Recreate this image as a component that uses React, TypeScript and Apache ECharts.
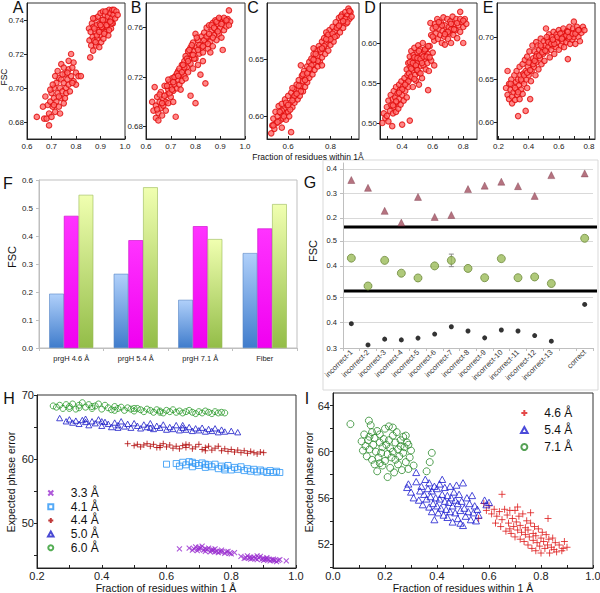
import React, { useEffect, useRef } from 'react';
import * as echarts from 'echarts';

const FONT = 'Liberation Sans, Arial, sans-serif';

// ---------- Panel A ----------
const aLow = [[0.64,0.683],[0.665,0.689],[0.67,0.682],[0.675,0.695],[0.68,0.682],[0.685,0.69],[0.69,0.678],[0.69,0.685],[0.695,0.692],[0.70,0.683],[0.70,0.697],[0.705,0.689],[0.71,0.694],[0.71,0.700],[0.715,0.686],[0.72,0.692],[0.72,0.703],[0.725,0.697],[0.73,0.689],[0.73,0.706],[0.735,0.700],[0.74,0.694],[0.74,0.714],[0.74,0.705],[0.745,0.698],[0.75,0.703],[0.75,0.691],[0.755,0.708],[0.76,0.700],[0.76,0.697],[0.765,0.705],[0.77,0.711],[0.77,0.702],[0.775,0.698],[0.78,0.72],[0.78,0.707],[0.785,0.712],[0.79,0.704],[0.79,0.715],[0.80,0.709],[0.80,0.702],[0.81,0.707],[0.82,0.707],[0.725,0.710],[0.705,0.702],[0.695,0.699],[0.735,0.685],[0.755,0.694],[0.77,0.716],[0.715,0.707],[0.745,0.708],[0.765,0.709],[0.73,0.695],[0.71,0.690],[0.75,0.712],[0.785,0.703]];
const aHigh = [[0.853,0.735],[0.855,0.728],[0.858,0.718],[0.86,0.733],[0.862,0.725],[0.865,0.738],[0.868,0.73],[0.87,0.722],[0.872,0.736],[0.875,0.728],[0.878,0.741],[0.88,0.733],[0.882,0.725],[0.885,0.737],[0.888,0.729],[0.89,0.742],[0.892,0.734],[0.895,0.724],[0.897,0.738],[0.90,0.744],[0.90,0.731],[0.903,0.727],[0.905,0.740],[0.908,0.735],[0.91,0.745],[0.912,0.729],[0.915,0.738],[0.918,0.743],[0.92,0.733],[0.922,0.74],[0.925,0.745],[0.927,0.736],[0.93,0.742],[0.932,0.731],[0.935,0.746],[0.937,0.739],[0.94,0.744],[0.943,0.735],[0.945,0.741],[0.948,0.746],[0.95,0.738],[0.953,0.743],[0.955,0.746],[0.96,0.741],[0.965,0.745],[0.97,0.743],[0.875,0.735],[0.885,0.731],[0.895,0.733],[0.905,0.736],[0.915,0.732],[0.925,0.737],[0.935,0.734],[0.945,0.738],[0.88,0.727],[0.9,0.737],[0.92,0.745],[0.94,0.739],[0.87,0.741],[0.91,0.74]];
const aXLabels = [0.6, 0.7, 0.8, 0.9, 1.0];
const aYLabels = [0.68, 0.70, 0.72, 0.74];

// ---------- Panel B ----------
const bPts = [[0.625,0.700],[0.63,0.693],[0.635,0.712],[0.64,0.687],[0.64,0.697],[0.645,0.704],[0.65,0.691],[0.65,0.685],[0.655,0.700],[0.66,0.695],[0.66,0.708],[0.665,0.689],[0.67,0.702],[0.67,0.697],[0.675,0.713],[0.68,0.700],[0.68,0.693],[0.685,0.706],[0.69,0.710],[0.69,0.699],[0.695,0.716],[0.70,0.704],[0.70,0.712],[0.705,0.719],[0.71,0.709],[0.71,0.700],[0.715,0.714],[0.72,0.688],[0.72,0.721],[0.725,0.711],[0.73,0.718],[0.73,0.725],[0.735,0.714],[0.74,0.722],[0.745,0.730],[0.745,0.717],[0.75,0.726],[0.755,0.733],[0.755,0.721],[0.76,0.737],[0.765,0.728],[0.77,0.741],[0.77,0.724],[0.775,0.735],[0.78,0.705],[0.78,0.744],[0.78,0.731],[0.785,0.738],[0.79,0.727],[0.79,0.748],[0.795,0.741],[0.80,0.699],[0.80,0.755],[0.80,0.735],[0.805,0.744],[0.81,0.730],[0.81,0.750],[0.815,0.739],[0.82,0.722],[0.82,0.746],[0.825,0.753],[0.83,0.740],[0.835,0.756],[0.84,0.715],[0.84,0.748],[0.845,0.760],[0.85,0.743],[0.85,0.752],[0.855,0.762],[0.86,0.749],[0.865,0.757],[0.87,0.764],[0.87,0.745],[0.875,0.754],[0.88,0.766],[0.88,0.759],[0.885,0.750],[0.89,0.763],[0.895,0.755],[0.90,0.767],[0.90,0.760],[0.905,0.752],[0.91,0.742],[0.91,0.765],[0.915,0.758],[0.92,0.766],[0.925,0.761],[0.93,0.767],[0.935,0.774],[0.94,0.765],[0.76,0.719],[0.83,0.733],[0.86,0.740],[0.74,0.710],[0.69,0.718],
  [0.645,0.694],[0.655,0.706],[0.665,0.699],[0.675,0.705],[0.685,0.713],[0.695,0.707],[0.705,0.710],[0.715,0.720],[0.725,0.723],[0.735,0.727],[0.745,0.724],[0.755,0.728],[0.765,0.735],[0.775,0.742],[0.785,0.746],[0.795,0.735],[0.805,0.752],[0.815,0.746],[0.825,0.744],[0.835,0.750],[0.845,0.753],[0.855,0.755],[0.865,0.762],[0.875,0.760],[0.885,0.765],[0.895,0.768],[0.905,0.763],[0.915,0.768],[0.925,0.766],[0.935,0.762],[0.89,0.757],[0.87,0.752],[0.85,0.747],[0.83,0.745],[0.81,0.742],[0.79,0.738],[0.77,0.733],[0.75,0.730],[0.73,0.721],[0.71,0.716]];
const bXLabels = [0.6, 0.7, 0.8, 0.9, 1.0];
const bYLabels = [0.68, 0.72, 0.76];

// ---------- Panel C ----------
const cPts = [[0.52,0.585],[0.525,0.592],[0.53,0.598],[0.535,0.589],[0.54,0.604],[0.545,0.594],[0.55,0.600],[0.555,0.609],[0.56,0.596],[0.565,0.603],[0.57,0.611],[0.575,0.598],[0.58,0.606],[0.585,0.615],[0.59,0.603],[0.59,0.597],[0.595,0.610],[0.60,0.618],[0.60,0.604],[0.605,0.600],[0.61,0.612],[0.614,0.586],[0.615,0.621],[0.62,0.608],[0.625,0.616],[0.63,0.624],[0.63,0.612],[0.635,0.619],[0.64,0.628],[0.645,0.615],[0.65,0.623],[0.65,0.632],[0.655,0.618],[0.66,0.627],[0.665,0.636],[0.67,0.622],[0.67,0.631],[0.675,0.640],[0.68,0.626],[0.685,0.635],[0.69,0.644],[0.69,0.630],[0.695,0.639],[0.70,0.648],[0.70,0.634],[0.705,0.642],[0.71,0.651],[0.715,0.637],[0.72,0.646],[0.72,0.655],[0.725,0.641],[0.73,0.650],[0.735,0.658],[0.74,0.644],[0.74,0.653],[0.745,0.662],[0.75,0.648],[0.755,0.657],[0.76,0.666],[0.76,0.652],[0.765,0.660],[0.77,0.669],[0.775,0.655],[0.78,0.664],[0.785,0.672],[0.79,0.658],[0.79,0.667],[0.795,0.676],[0.80,0.663],[0.805,0.671],[0.81,0.679],[0.815,0.666],[0.82,0.675],[0.825,0.683],[0.83,0.671],[0.835,0.679],[0.84,0.687],[0.845,0.674],[0.85,0.683],[0.855,0.690],[0.86,0.678],[0.865,0.686],[0.87,0.692],[0.875,0.682],[0.88,0.689],[0.885,0.695],[0.89,0.686],[0.895,0.692],[0.90,0.688],[0.66,0.645],[0.72,0.660],[0.78,0.674],[0.62,0.625],[0.57,0.590],[0.76,0.645],
  [0.53,0.592],[0.55,0.595],[0.57,0.605],[0.59,0.612],[0.61,0.606],[0.63,0.618],[0.65,0.627],[0.67,0.637],[0.69,0.638],[0.71,0.645],[0.73,0.655],[0.75,0.659],[0.77,0.662],[0.79,0.672],[0.81,0.673],[0.83,0.678],[0.85,0.688],[0.87,0.686],[0.89,0.693],[0.88,0.683],[0.86,0.684],[0.84,0.680],[0.82,0.670],[0.80,0.668],[0.78,0.668],[0.76,0.660],[0.74,0.649],[0.72,0.650],[0.70,0.642],[0.68,0.632],[0.66,0.622],[0.64,0.620],[0.62,0.614],[0.60,0.610],[0.58,0.600],[0.56,0.604]];
const cXLabels = [0.6, 0.8];
const cXTicks = [0.6, 0.7, 0.8, 0.9];
const cYLabels = [0.60, 0.65];

// ---------- Panel D ----------
const dPts = [[0.27,0.500],[0.28,0.512],[0.29,0.506],[0.30,0.520],[0.30,0.509],[0.31,0.528],[0.31,0.502],[0.32,0.515],[0.325,0.535],[0.33,0.522],[0.335,0.496],[0.34,0.530],[0.34,0.512],[0.345,0.540],[0.35,0.520],[0.355,0.532],[0.36,0.514],[0.36,0.545],[0.365,0.526],[0.37,0.537],[0.375,0.518],[0.38,0.548],[0.38,0.530],[0.385,0.541],[0.39,0.523],[0.395,0.552],[0.40,0.535],[0.40,0.498],[0.405,0.545],[0.41,0.528],[0.415,0.556],[0.42,0.540],[0.425,0.550],[0.43,0.532],[0.435,0.560],[0.44,0.545],[0.45,0.503],[0.45,0.555],
  [0.43,0.567],[0.44,0.575],[0.445,0.562],[0.45,0.583],[0.455,0.570],[0.46,0.590],[0.46,0.558],[0.465,0.578],[0.47,0.566],[0.475,0.585],[0.48,0.573],[0.48,0.594],[0.485,0.560],[0.49,0.580],[0.495,0.568],[0.50,0.588],[0.50,0.575],[0.505,0.597],[0.51,0.563],[0.515,0.583],[0.52,0.571],[0.52,0.592],[0.525,0.578],[0.53,0.556],[0.53,0.586],[0.535,0.600],[0.54,0.572],[0.545,0.590],[0.55,0.580],[0.555,0.567],[0.56,0.593],[0.565,0.575],[0.57,0.541],[0.57,0.586],[0.575,0.565],[0.58,0.596],[0.59,0.578],[0.60,0.588],[0.61,0.572],[0.49,0.553],[0.51,0.548],[0.47,0.545],
  [0.45,0.576],[0.46,0.568],[0.47,0.575],[0.48,0.582],[0.49,0.572],[0.50,0.581],[0.51,0.590],[0.52,0.580],[0.53,0.575],[0.54,0.583],[0.55,0.592],[0.56,0.583],[0.57,0.596],[0.58,0.582],[0.50,0.566],[0.52,0.562],[0.48,0.555],[0.44,0.552],[0.42,0.548],[0.40,0.542],[0.38,0.538],[0.36,0.527],[0.34,0.522],
  [0.585,0.625],[0.59,0.610],[0.60,0.618],[0.61,0.603],[0.615,0.624],[0.62,0.612],[0.63,0.630],[0.635,0.605],[0.64,0.618],[0.65,0.610],[0.655,0.625],[0.66,0.600],[0.665,0.615],[0.67,0.632],[0.675,0.608],[0.68,0.622],[0.69,0.614],[0.695,0.630],[0.70,0.605],[0.705,0.620],[0.71,0.612],[0.715,0.627],[0.72,0.617],[0.73,0.633],[0.735,0.610],[0.74,0.624],[0.75,0.616],[0.755,0.630],[0.76,0.606],[0.77,0.622],[0.78,0.639],[0.78,0.614],[0.79,0.626],[0.80,0.600],[0.80,0.620],[0.81,0.630],[0.82,0.624],[0.68,0.598],[0.72,0.600],
  [0.66,0.622],[0.70,0.614],[0.74,0.617],[0.76,0.625],[0.72,0.624],[0.68,0.611],[0.64,0.626],[0.62,0.620],[0.78,0.630],[0.80,0.628],[0.60,0.608]];
const dXLabels = [0.4, 0.6, 0.8];
const dXTicks = [0.3, 0.4, 0.5, 0.6, 0.7, 0.8];
const dYLabels = [0.50, 0.55, 0.60];

// ---------- Panel E ----------
const ePts = [[0.25,0.640],[0.26,0.632],[0.26,0.660],[0.27,0.645],[0.27,0.627],[0.28,0.638],[0.285,0.650],[0.29,0.630],[0.29,0.622],[0.30,0.643],[0.30,0.635],[0.305,0.655],[0.31,0.626],[0.315,0.647],[0.32,0.638],[0.32,0.660],[0.325,0.632],[0.33,0.607],[0.33,0.650],[0.335,0.643],[0.34,0.665],[0.34,0.627],[0.345,0.655],[0.35,0.638],[0.355,0.648],[0.36,0.668],[0.36,0.633],[0.365,0.657],[0.37,0.645],[0.375,0.673],[0.38,0.613],[0.38,0.660],[0.385,0.650],[0.39,0.640],[0.39,0.677],[0.395,0.665],[0.40,0.655],[0.405,0.683],[0.41,0.627],[0.41,0.670],[0.415,0.648],[0.42,0.660],[0.425,0.690],[0.43,0.675],[0.435,0.665],[0.44,0.683],[0.445,0.655],[0.45,0.694],[0.45,0.670],[0.455,0.680],[0.46,0.690],[0.465,0.662],[0.47,0.685],[0.475,0.675],[0.48,0.698],[0.485,0.668],[0.49,0.688],[0.495,0.680],[0.50,0.695],[0.505,0.672],[0.51,0.690],[0.515,0.710],[0.52,0.683],[0.525,0.697],[0.53,0.688],[0.535,0.703],[0.54,0.676],[0.545,0.694],[0.55,0.685],[0.555,0.700],[0.56,0.690],[0.565,0.706],[0.57,0.680],[0.575,0.697],[0.58,0.688],[0.585,0.703],[0.59,0.694],[0.60,0.708],[0.60,0.685],[0.61,0.698],[0.615,0.690],[0.62,0.705],[0.625,0.695],[0.63,0.710],[0.635,0.688],[0.64,0.700],[0.65,0.694],[0.655,0.707],[0.66,0.674],[0.665,0.698],[0.67,0.712],[0.675,0.692],[0.68,0.704],[0.69,0.697],[0.695,0.710],[0.70,0.718],[0.70,0.700],[0.71,0.692],[0.715,0.706],[0.72,0.712],[0.73,0.700],[0.735,0.708],[0.74,0.695],[0.75,0.705],[0.76,0.712],[0.77,0.708],
  [0.28,0.645],[0.31,0.640],[0.33,0.635],[0.35,0.650],[0.37,0.655],[0.39,0.658],[0.41,0.661],[0.43,0.668],[0.45,0.677],[0.47,0.678],[0.49,0.682],[0.51,0.684],[0.53,0.694],[0.55,0.692],[0.57,0.692],[0.59,0.700],[0.61,0.704],[0.63,0.700],[0.65,0.702],[0.67,0.700],[0.69,0.704],[0.71,0.704],[0.73,0.708],[0.40,0.670],[0.44,0.672],[0.48,0.690],[0.52,0.700],[0.56,0.697],[0.62,0.698],[0.66,0.706]];
const eXLabels = [0.2, 0.4, 0.6, 0.8];
const eXTicks = [0.2, 0.3, 0.4, 0.5, 0.6, 0.7, 0.8];
const eYLabels = [0.60, 0.65, 0.70];

// ---------- Panel F ----------
const fCats = ['prgH 4.6 Å', 'prgH 5.4 Å', 'prgH 7.1 Å', 'Fiber'];
const fBlue = [0.194, 0.265, 0.172, 0.339];
const fMagenta = [0.472, 0.385, 0.435, 0.427];
const fGreen = [0.547, 0.574, 0.389, 0.514];

// ---------- Panel G ----------
const gCats = ['incorrect-1','incorrect-2','incorrect-3','incorrect-4','incorrect-5','incorrect-6','incorrect-7','incorrect-8','incorrect-9','incorrect-10','incorrect-11','incorrect-12','incorrect-13','','correct'];
const gTop = [0.355,0.323,0.229,0.181,0.286,0.204,0.212,0.318,0.332,0.348,0.330,0.290,0.375,null,0.382];
const gMid = [0.431,0.320,0.422,0.371,0.352,0.400,0.422,0.390,0.353,0.429,0.353,0.356,0.330,null,0.510];
const gMidErr = [0,0,0,0,0,0,0.025,0,0,0,0,0,0,0,0];
const gBot = [0.396,0.312,0.335,0.332,0.339,0.355,0.384,0.367,0.340,0.371,0.367,0.349,0.327,null,0.472];
const gTopLabels = [0.2, 0.3, 0.4];
const gMidLabels = [0.4, 0.5];
const gBotLabels = [0.3, 0.4, 0.5];

// ---------- Panel H ----------
const h60 = [[0.25,68.3],[0.26,68.1],[0.27,68.4],[0.28,67.9],[0.29,68.5],[0.30,68.2],[0.31,68.6],[0.32,67.8],[0.33,68.4],[0.34,68.8],[0.35,68.1],[0.36,68.5],[0.37,67.9],[0.38,68.3],[0.39,68.6],[0.40,67.8],[0.41,68.4],[0.42,68.0],[0.43,67.7],[0.44,68.2],[0.45,67.9],[0.46,68.1],[0.47,67.6],[0.48,68.0],[0.49,67.8],[0.50,67.5],[0.51,67.9],[0.52,67.7],[0.53,67.4],[0.54,67.8],[0.55,67.6],[0.56,67.3],[0.57,67.7],[0.58,67.5],[0.59,67.2],[0.60,67.6],[0.61,67.4],[0.62,67.7],[0.63,67.3],[0.64,67.5],[0.65,67.2],[0.66,67.4],[0.67,67.6],[0.68,67.3],[0.69,67.1],[0.70,67.4],[0.71,67.2],[0.72,67.5],[0.73,67.3],[0.74,67.1],[0.75,67.4],[0.76,67.2],[0.77,67.3],[0.78,67.2],[0.33,68.0],[0.37,68.2],[0.44,67.6],[0.5,67.9],[0.3,67.9],[0.58,67.3]];
const h50 = [[0.27,66.4],[0.29,65.9],[0.30,66.2],[0.31,65.7],[0.32,66.0],[0.33,65.5],[0.34,66.1],[0.35,65.8],[0.36,65.3],[0.37,65.9],[0.38,65.6],[0.39,66.2],[0.40,65.2],[0.41,65.8],[0.42,65.5],[0.43,65.0],[0.44,65.7],[0.45,65.3],[0.46,65.9],[0.47,65.1],[0.48,65.5],[0.49,64.9],[0.50,65.6],[0.51,65.2],[0.52,64.8],[0.53,65.4],[0.54,65.0],[0.55,65.6],[0.56,64.7],[0.57,65.2],[0.58,64.9],[0.59,65.4],[0.60,64.6],[0.61,65.0],[0.62,64.7],[0.63,65.3],[0.64,64.5],[0.65,64.9],[0.66,64.6],[0.67,65.0],[0.68,64.4],[0.69,64.8],[0.70,64.5],[0.71,64.9],[0.72,64.3],[0.73,64.7],[0.74,64.4],[0.75,64.8],[0.76,64.2],[0.77,64.6],[0.78,64.3],[0.80,64.4],[0.82,64.2],[0.35,66.3],[0.4,65.9],[0.45,64.9],[0.55,64.9],[0.65,65.3]];
const h44 = [[0.48,62.4],[0.50,62.1],[0.51,62.3],[0.52,61.9],[0.53,62.2],[0.54,62.4],[0.55,62.0],[0.56,62.3],[0.57,61.8],[0.58,62.1],[0.59,62.4],[0.60,61.9],[0.61,62.2],[0.62,61.7],[0.63,62.0],[0.64,61.6],[0.65,62.1],[0.66,61.8],[0.67,62.2],[0.68,61.6],[0.69,61.9],[0.70,62.3],[0.71,61.5],[0.72,61.8],[0.73,62.0],[0.74,61.4],[0.75,61.7],[0.76,62.0],[0.77,61.3],[0.78,61.6],[0.79,61.2],[0.80,61.5],[0.81,61.1],[0.82,61.4],[0.83,61.0],[0.84,61.3],[0.85,60.9],[0.86,61.2],[0.87,61.0],[0.88,60.8],[0.89,61.1],[0.90,61.0],[0.58,61.8],[0.66,62.3],[0.72,61.3]];
const h41 = [[0.60,59.2],[0.63,59.3],[0.64,58.9],[0.65,59.5],[0.66,59.1],[0.67,59.6],[0.68,58.8],[0.69,59.3],[0.70,59.0],[0.71,59.4],[0.72,58.7],[0.73,59.1],[0.74,58.8],[0.75,59.2],[0.76,58.5],[0.77,58.9],[0.78,58.6],[0.79,59.0],[0.80,58.3],[0.81,58.7],[0.82,58.4],[0.83,58.8],[0.84,58.2],[0.85,58.5],[0.86,58.1],[0.87,58.4],[0.88,58.0],[0.89,58.3],[0.90,58.1],[0.91,57.9],[0.92,58.2],[0.93,57.9],[0.94,58.1],[0.95,57.9],[0.68,59.5],[0.72,59.2],[0.78,58.3]];
const h33 = [[0.64,46.0],[0.67,46.1],[0.68,45.8],[0.69,46.3],[0.70,45.9],[0.71,46.4],[0.72,45.6],[0.73,46.1],[0.74,45.7],[0.75,46.0],[0.76,45.4],[0.77,45.8],[0.78,45.3],[0.79,45.6],[0.80,45.2],[0.72,46.0],[0.75,45.5],[0.70,46.2],[0.74,45.9],[0.77,45.5],[0.81,45.4],
  [0.685,46.0],[0.695,45.7],[0.705,46.1],[0.715,45.8],[0.725,45.9],[0.735,45.5],[0.745,45.8],[0.755,45.6],[0.765,45.6],[0.785,45.5],[0.795,45.3],
  [0.83,44.8],[0.84,44.5],[0.85,44.9],[0.86,44.4],[0.87,44.7],[0.88,44.3],[0.89,44.8],[0.90,44.2],[0.91,44.6],[0.92,44.1],[0.93,44.4],[0.94,44.0],[0.95,44.3],[0.97,44.1],[0.88,44.9],[0.91,44.4],[0.86,44.7],[0.90,44.5],[0.93,44.2],
  [0.845,44.6],[0.855,44.6],[0.865,44.5],[0.875,44.5],[0.885,44.6],[0.895,44.4],[0.905,44.4],[0.915,44.3],[0.925,44.3],[0.935,44.2],[0.945,44.2]];
const hXLabels = [0.2, 0.4, 0.6, 0.8, 1.0];
const hXTicks = [0.2, 0.3, 0.4, 0.5, 0.6, 0.7, 0.8, 0.9, 1.0];
const hYLabels = [50, 60, 70];
const hYTicks = [45, 50, 55, 60, 65, 70];

// ---------- Panel I ----------
const i71 = [[0.067,62.4],[0.11,60.9],[0.115,60.1],[0.12,61.5],[0.125,60.5],[0.13,59.6],[0.135,61.0],[0.138,62.7],[0.14,60.2],[0.145,62.3],[0.15,61.7],[0.15,59.3],[0.155,60.6],[0.16,61.2],[0.16,58.9],[0.165,60.0],[0.17,58.3],[0.17,61.8],[0.175,59.5],[0.18,60.8],[0.18,61.5],[0.185,59.9],[0.19,58.8],[0.19,60.4],[0.195,61.1],[0.20,59.2],[0.20,62.0],[0.205,60.6],[0.21,57.8],[0.21,59.8],[0.215,62.2],[0.215,61.0],[0.22,60.3],[0.22,58.6],[0.225,59.5],[0.23,61.4],[0.23,60.0],[0.235,58.2],[0.24,60.8],[0.24,59.3],[0.245,61.7],[0.25,60.2],[0.25,58.9],[0.255,59.6],[0.26,61.0],[0.26,60.5],[0.265,58.4],[0.27,59.9],[0.27,61.3],[0.275,60.4],[0.28,61.4],[0.28,59.1],[0.285,60.8],[0.29,60.6],[0.295,59.5],[0.30,60.1],[0.31,58.8],[0.36,58.3],[0.372,59.1],[0.38,59.9],[0.29,58.5],[0.18,59.0],[0.14,61.3],[0.23,62.1]];
const i54 = [[0.285,56.9],[0.29,57.2],[0.30,56.5],[0.31,56.0],[0.32,58.2],[0.32,57.4],[0.33,55.8],[0.335,56.6],[0.34,57.0],[0.345,55.4],[0.35,56.3],[0.355,57.6],[0.36,55.9],[0.365,56.8],[0.37,55.2],[0.37,57.3],[0.375,56.1],[0.38,54.8],[0.38,56.6],[0.385,55.5],[0.39,54.1],[0.39,57.0],[0.395,56.0],[0.40,55.3],[0.40,56.8],[0.405,54.7],[0.41,55.9],[0.41,57.2],[0.415,55.1],[0.42,57.6],[0.42,56.3],[0.425,54.5],[0.43,55.7],[0.43,56.9],[0.435,55.0],[0.44,56.2],[0.44,54.3],[0.445,55.6],[0.45,57.0],[0.45,54.8],[0.455,56.0],[0.46,55.3],[0.46,53.9],[0.465,56.5],[0.47,54.7],[0.47,55.8],[0.475,57.1],[0.48,54.2],[0.48,55.5],[0.485,56.3],[0.49,54.9],[0.49,53.8],[0.495,55.7],[0.50,53.6],[0.50,57.3],[0.505,55.1],[0.51,54.4],[0.515,56.0],[0.52,54.8],[0.525,55.5],[0.53,54.1],[0.535,56.2],[0.54,54.7],[0.545,55.3],[0.55,54.0],[0.555,55.0],[0.56,54.5],[0.583,55.8],[0.59,55.4],[0.60,55.6]];
const i46 = [[0.56,54.2],[0.58,55.5],[0.59,54.9],[0.60,55.3],[0.61,54.6],[0.62,55.0],[0.625,53.8],[0.63,54.4],[0.64,54.8],[0.645,53.5],[0.65,56.3],[0.65,54.1],[0.66,55.0],[0.665,53.1],[0.67,54.5],[0.675,53.8],[0.68,54.9],[0.685,52.9],[0.69,54.2],[0.695,53.5],[0.70,54.9],[0.70,52.6],[0.705,53.9],[0.71,53.2],[0.715,54.4],[0.72,52.4],[0.72,53.6],[0.725,53.0],[0.73,54.6],[0.735,52.2],[0.74,53.4],[0.74,52.8],[0.745,54.0],[0.75,51.9],[0.75,53.2],[0.755,52.6],[0.76,53.8],[0.765,51.6],[0.77,52.9],[0.77,52.3],[0.775,53.5],[0.78,51.4],[0.78,52.7],[0.785,52.1],[0.79,53.3],[0.795,51.8],[0.80,52.5],[0.80,51.2],[0.805,53.0],[0.81,52.2],[0.815,51.6],[0.82,52.8],[0.825,51.9],[0.827,54.2],[0.83,52.4],[0.833,51.2],[0.84,51.7],[0.845,52.5],[0.85,51.5],[0.855,52.1],[0.86,51.3],[0.87,51.9],[0.88,51.4],[0.885,51.6],[0.89,52.2],[0.90,51.7],[0.76,54.7],[0.68,53.3],[0.71,55.2]];
const iXLabels = [0.0, 0.2, 0.4, 0.6, 0.8, 1.0];
const iXTicks = [0.0, 0.1, 0.2, 0.3, 0.4, 0.5, 0.6, 0.7, 0.8, 0.9, 1.0];
const iYLabels = [52, 56, 60, 64];
const iYTicks = [50, 52, 54, 56, 58, 60, 62, 64];

const PLUS = 'path://M5,0L5,10M0,5L10,5';
const CROSS = 'path://M0,0L10,10M10,0L0,10';
const TRI = 'path://M5,0L10,9L0,9Z';
const SQ = 'path://M0,0L10,0L10,10L0,10Z';

type AxOpt = { inside?: boolean; color?: string; fontSize?: number; margin?: number; split?: boolean; show?: boolean };

function valueAxis(gridIndex: number, min: number, max: number, labels: number[], ticks: number[], dec: number, o: AxOpt = {}) {
  const c = o.color ?? '#222';
  return {
    type: 'value', gridIndex, min, max,
    axisLine: { show: true, onZero: false, lineStyle: { color: c, width: 1 } },
    axisTick: { show: true, inside: o.inside ?? false, length: 3, customValues: ticks, lineStyle: { color: c } },
    axisLabel: {
      show: o.show ?? true, customValues: labels, formatter: (v: number) => Number(v).toFixed(dec),
      fontSize: o.fontSize ?? 8, color: '#222', margin: o.margin ?? 3, fontFamily: FONT,
    },
    splitLine: { show: !!o.split, lineStyle: { color: '#d9d9d9', width: 1 } },
  };
}

function txt(text: string, x: number, y: number, fontSize: number, rotation = 0) {
  return {
    type: 'text', x, y, rotation, silent: true,
    style: { text, fontSize, fontFamily: FONT, fill: '#111', align: 'center', verticalAlign: 'middle' },
  };
}

const redStyle = { color: '#ff6a6a', borderColor: '#e00808', borderWidth: 1.1 };

export default function App() {
  const ref = useRef<HTMLDivElement>(null);
  useEffect(() => {
    if (!ref.current) return;
    const chart = echarts.init(ref.current, undefined, { renderer: 'svg' });
    const topBox = { show: true, borderColor: '#333', borderWidth: 1, backgroundColor: 'transparent' };
    const grids = [
      { left: 27, top: 3, width: 98, height: 136, ...topBox },
      { left: 146, top: 3, width: 99, height: 136, ...topBox },
      { left: 267, top: 3, width: 92, height: 136, ...topBox },
      { left: 380, top: 3, width: 97, height: 136, ...topBox },
      { left: 497, top: 3, width: 98, height: 136, ...topBox },
      { left: 39, top: 180, width: 258, height: 168, show: true, borderColor: '#bfbfbf', borderWidth: 1 },
      { left: 343, top: 163, width: 250, height: 64 },
      { left: 343, top: 227, width: 250, height: 64 },
      { left: 343, top: 291, width: 250, height: 57 },
      { left: 37, top: 395, width: 259, height: 173, ...topBox },
      { left: 333, top: 393, width: 260, height: 175, ...topBox },
    ].map(g => ({ ...g, outerBoundsMode: 'none', containLabel: false }));

    const gCatAxis = (gi: number, showLabels: boolean) => ({
      type: 'category', gridIndex: gi, data: gCats, boundaryGap: true,
      axisLine: { show: showLabels, lineStyle: { color: '#bfbfbf' } },
      axisTick: { show: showLabels, length: 3, lineStyle: { color: '#bfbfbf' } },
      axisLabel: { show: showLabels, interval: 0, rotate: 45, fontSize: 7.5, color: '#333', margin: 3, fontFamily: FONT },
      splitLine: { show: false },
    });
    const gVal = (gi: number, min: number, max: number, labels: number[]) =>
      valueAxis(gi, min, max, labels, labels, 1, { color: '#bfbfbf', split: true, margin: 6, fontSize: 7.5 });

    const xAxis: any[] = [
      valueAxis(0, 0.6, 1.0, aXLabels, aXLabels, 1, { inside: true }),
      valueAxis(1, 0.6, 1.0, bXLabels, bXLabels, 1, { inside: true }),
      valueAxis(2, 0.5, 0.935, cXLabels, cXTicks, 1, { inside: true }),
      valueAxis(3, 0.255, 0.89, dXLabels, dXTicks, 1, { inside: true }),
      valueAxis(4, 0.19, 0.84, eXLabels, eXTicks, 1, { inside: true }),
      {
        type: 'category', gridIndex: 5, data: fCats,
        axisLine: { lineStyle: { color: '#bfbfbf' } },
        axisTick: { show: true, length: 3, lineStyle: { color: '#bfbfbf' } },
        axisLabel: { fontSize: 7.5, color: '#222', margin: 6, fontFamily: FONT },
      },
      gCatAxis(6, false),
      gCatAxis(7, false),
      gCatAxis(8, true),
      valueAxis(9, 0.2, 1.0, hXLabels, hXTicks, 1, { inside: true, fontSize: 11, margin: 2 }),
      valueAxis(10, 0.0, 1.0, iXLabels, iXTicks, 1, { inside: true, fontSize: 11, margin: 2 }),
    ];
    const yAxis: any[] = [
      valueAxis(0, 0.67, 0.75, aYLabels, aYLabels, 2),
      valueAxis(1, 0.67, 0.78, bYLabels, bYLabels, 2),
      valueAxis(2, 0.58, 0.70, cYLabels, cYLabels, 2),
      valueAxis(3, 0.48, 0.65, dYLabels, dYLabels, 2),
      valueAxis(4, 0.58, 0.74, eYLabels, eYLabels, 2),
      {
        type: 'value', gridIndex: 5, min: 0, max: 0.6, interval: 0.1,
        axisLine: { show: true, lineStyle: { color: '#bfbfbf' } },
        axisTick: { show: true, length: 3, lineStyle: { color: '#bfbfbf' } },
        axisLabel: { formatter: (v: number) => v.toFixed(1), fontSize: 8, color: '#222', margin: 6, fontFamily: FONT },
        splitLine: { show: false },
      },
      gVal(6, 0.163, 0.4245, gTopLabels),
      gVal(7, 0.30, 0.555, gMidLabels),
      gVal(8, 0.30, 0.525, gBotLabels),
      valueAxis(9, 43, 70, hYLabels, hYTicks, 0, { fontSize: 11, margin: 3 }),
      valueAxis(10, 49.9, 65.1, iYLabels, iYTicks, 0, { fontSize: 11, margin: 3 }),
    ];

    const sc = (name: string, idx: number, data: any[], extra: any) => ({
      type: 'scatter', name, xAxisIndex: idx, yAxisIndex: idx, data, silent: true, symbolKeepAspect: true, ...extra,
    });
    const top = { symbol: 'circle', symbolSize: 5.5, itemStyle: redStyle };
    const dash = (arr: (number | null)[]) => arr.map(v => (v == null ? '-' : v));

    const barGrad = (a: string, b: string) => new echarts.graphic.LinearGradient(0, 0, 0, 1, [
      { offset: 0, color: a }, { offset: 1, color: b },
    ]);

    const series: any[] = [
      sc('A1', 0, aLow, top), sc('A2', 0, aHigh, top),
      sc('B', 1, bPts, top), sc('C', 2, cPts, top), sc('D', 3, dPts, top), sc('E', 4, ePts, top),
      { type: 'bar', name: 'F1', xAxisIndex: 5, yAxisIndex: 5, data: fBlue, barWidth: 14.7, barGap: '0%', silent: true,
        itemStyle: { color: barGrad('#b0d0fa', '#3f7ccc'), borderColor: '#5585c5', borderWidth: 0.6 } },
      { type: 'bar', name: 'F2', xAxisIndex: 5, yAxisIndex: 5, data: fMagenta, barWidth: 14.7, barGap: '0%', silent: true,
        itemStyle: { color: barGrad('#ff33ff', '#f000f0'), borderColor: '#c800c8', borderWidth: 0.6 } },
      { type: 'bar', name: 'F3', xAxisIndex: 5, yAxisIndex: 5, data: fGreen, barWidth: 14.7, barGap: '0%', silent: true,
        itemStyle: { color: barGrad('#f0ffb0', '#93bd48'), borderColor: '#98b954', borderWidth: 0.6 } },
      sc('Gtop', 6, dash(gTop), { symbol: 'triangle', symbolSize: 7, itemStyle: { color: '#a35060', borderColor: '#7a3545', borderWidth: 0.5 } }),
      {
        type: 'custom', name: 'GmidErr', xAxisIndex: 7, yAxisIndex: 7, silent: true, z: 1,
        data: gMid.map((v, i) => [i, v, gMidErr[i]]).filter(d => d[1] != null && (d[2] as number) > 0),
        renderItem: (_p: any, api: any) => {
          const x = api.value(0), y = api.value(1), e = api.value(2);
          const lo = api.coord([x, y - e]); const hi = api.coord([x, y + e]);
          const st = { stroke: '#8a8a8a', lineWidth: 1 };
          return { type: 'group', children: [
            { type: 'line', shape: { x1: lo[0], y1: lo[1], x2: hi[0], y2: hi[1] }, style: st },
            { type: 'line', shape: { x1: lo[0] - 2.5, y1: lo[1], x2: lo[0] + 2.5, y2: lo[1] }, style: st },
            { type: 'line', shape: { x1: hi[0] - 2.5, y1: hi[1], x2: hi[0] + 2.5, y2: hi[1] }, style: st },
          ] };
        },
      },
      sc('Gmid', 7, dash(gMid), { symbol: 'circle', symbolSize: 8, z: 3, itemStyle: { color: '#9bbb59', borderColor: '#6e8a3c', borderWidth: 1 } }),
      sc('Gbot', 8, dash(gBot), { symbol: 'circle', symbolSize: 5, itemStyle: { color: '#000' } }),
      sc('3.3 Å', 9, h33, { symbol: CROSS, symbolSize: 5, itemStyle: { color: 'transparent', borderColor: '#9a2ed0', borderWidth: 1.1 } }),
      sc('4.1 Å', 9, h41, { symbol: SQ, symbolSize: 6, itemStyle: { color: 'transparent', borderColor: '#2b95f5', borderWidth: 1 } }),
      sc('4.4 Å', 9, h44, { symbol: PLUS, symbolSize: 6, itemStyle: { color: 'transparent', borderColor: '#b00808', borderWidth: 1 } }),
      sc('5.0 Å', 9, h50, { symbol: TRI, symbolSize: 6, itemStyle: { color: 'transparent', borderColor: '#1c1cc8', borderWidth: 1 } }),
      sc('6.0 Å', 9, h60, { symbol: 'circle', symbolSize: 6, itemStyle: { color: 'transparent', borderColor: '#2a9a2a', borderWidth: 1 } }),
      sc('4.6 Å', 10, i46, { symbol: PLUS, symbolSize: 7, itemStyle: { color: 'transparent', borderColor: '#dd1a1a', borderWidth: 1 } }),
      sc('5.4 Å', 10, i54, { symbol: TRI, symbolSize: 7, itemStyle: { color: 'transparent', borderColor: '#1e1ed0', borderWidth: 1 } }),
      sc('7.1 Å', 10, i71, { symbol: 'circle', symbolSize: 7, itemStyle: { color: 'transparent', borderColor: '#2b8a2b', borderWidth: 1 } }),
    ];

    const legendBase = { orient: 'vertical', itemWidth: 30, padding: 0, selectedMode: false, symbolKeepAspect: true, textStyle: { fontSize: 12, lineHeight: 12, color: '#111', fontFamily: FONT } };

    chart.setOption({
      animation: false,
      textStyle: { fontFamily: FONT },
      grid: grids,
      xAxis, yAxis, series,
      legend: [
        { ...legendBase, data: ['4.6 Å', '5.4 Å', '7.1 Å'], left: 520, top: 407, height: 48, itemHeight: 6, itemGap: 5 },
        { ...legendBase, data: ['3.3 Å', '4.1 Å', '4.4 Å', '5.0 Å', '6.0 Å'], left: 47, top: 487, height: 68, itemHeight: 5, itemGap: 1.7 },
      ],
      graphic: [
        txt('A', 18, 7, 16), txt('B', 136, 7, 16), txt('C', 253, 7, 16), txt('D', 370, 7, 16), txt('E', 488, 7, 16),
        txt('F', 8, 183, 16), txt('G', 310, 182, 16), txt('H', 9, 398, 16), txt('I', 307, 398, 16),
        txt('FSC', 4, 77, 8.5, Math.PI / 2),
        txt('Fraction of residues within 1Å', 308, 157, 8.5),
        txt('FSC', 12, 257, 11, Math.PI / 2),
        txt('FSC', 313, 251, 11, Math.PI / 2),
        txt('Expected phase error', 11, 482, 10.5, Math.PI / 2),
        txt('Fraction of residues within 1 Å', 166, 588, 10.5),
        txt('Expected phase error', 309, 482, 10.5, Math.PI / 2),
        txt('Fraction of residues within 1 Å', 463, 588, 10.5),
        { type: 'rect', silent: true, z: -1, shape: { x: 323, y: 160, width: 275, height: 230 }, style: { fill: 'none', stroke: '#d9d9d9', lineWidth: 1 } },
        { type: 'line', silent: true, shape: { x1: 343, y1: 227, x2: 597, y2: 227 }, style: { stroke: '#000', lineWidth: 3 } },
        { type: 'line', silent: true, shape: { x1: 343, y1: 291, x2: 597, y2: 291 }, style: { stroke: '#000', lineWidth: 3 } },
      ],
    });
    return () => chart.dispose();
  }, []);
  return <div ref={ref} style={{ position: 'fixed', left: 0, top: 0, width: 600, height: 593, background: '#fff' }} />;
}
